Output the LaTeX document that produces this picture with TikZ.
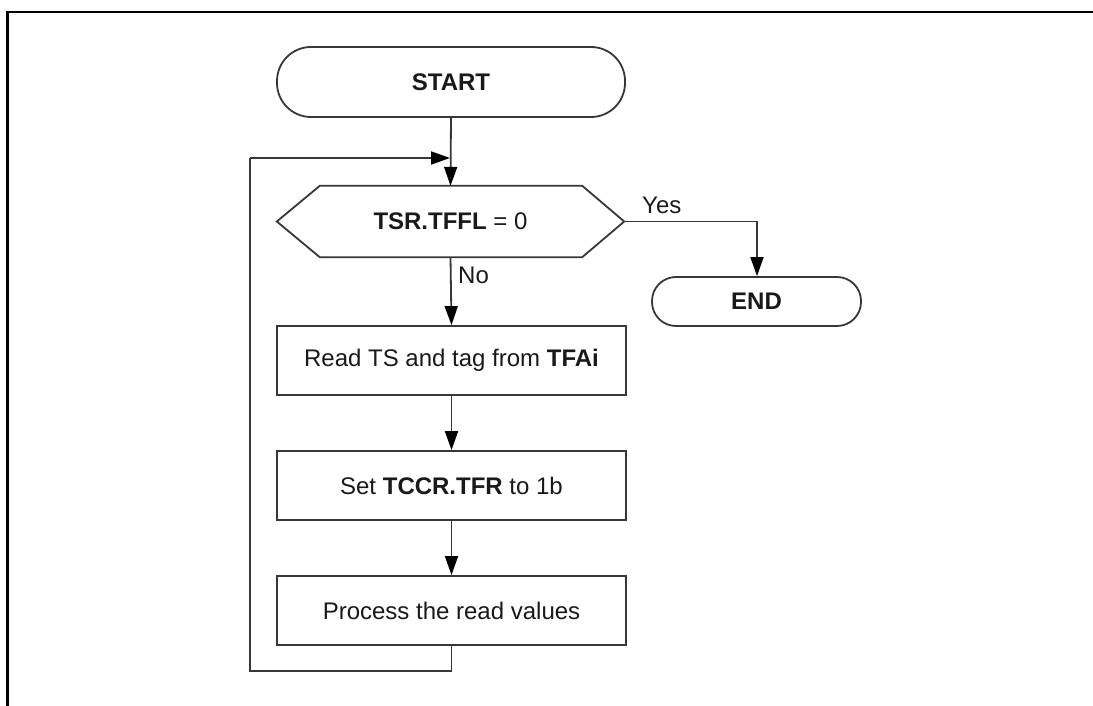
\documentclass[tikz,border=0pt]{standalone}
\usepackage{fontspec}
\setmainfont{Liberation Sans}
\usetikzlibrary{arrows.meta}
\definecolor{ln}{RGB}{55,55,55}
\definecolor{tx}{RGB}{25,25,25}
\tikzset{
  base/.style={draw=ln, line width=1.8pt, text=tx, inner sep=0pt, font=\fontsize{24}{28}\selectfont},
  term/.style={base, minimum height=70pt, rounded corners=34pt},
  procbox/.style={base, minimum width=349pt, minimum height=69pt},
  conn/.style={draw=ln, line width=1.8pt, -{Triangle[length=19pt,width=13pt,black]}},
  plain/.style={draw=ln, line width=1.8pt},
  lbl/.style={text=tx, inner sep=0pt, font=\fontsize{24}{28}\selectfont},
}
\begin{document}
\begin{tikzpicture}[x=1pt,y=-1pt]
\useasboundingbox (0,0) rectangle (1093,706);
% frame
\draw[black, line width=2.5pt] (7.5,706) -- (7.5,12) -- (1093,12);
% nodes
\node[term, minimum width=348pt] (start) at (451,82) {\textbf{START}};
\node[inner sep=0pt, minimum width=347pt, minimum height=71pt, lbl] (dec) at (450.5,221.5) {\textbf{TSR.TFFL} = 0};
\draw[plain, line join=miter] (dec.west) -- ([xshift=43pt]dec.north west) -- ([xshift=-42pt]dec.north east) -- (dec.east) -- ([xshift=-42pt]dec.south east) -- ([xshift=43pt]dec.south west) -- cycle;
\node[term, minimum width=209pt, minimum height=49pt, rounded corners=24pt] (end) at (756.5,301.5) {\textbf{END}};
\node[procbox] (r1) at (451.5,360.5) {Read TS and tag from \textbf{TFAi}};
\node[procbox] (r2) at (451.5,485.5) {Set \textbf{TCCR.TFR} to 1b};
\node[procbox] (r3) at (451.5,610.5) {Process the read values};
% connectors
\draw[conn] (start.south) -- (dec.north);
\coordinate (yc) at (757,221.5);
\draw[conn] (dec.east) -- (yc) -- (end.north -| yc);
\node[lbl, anchor=base west] (yes) at (642,213) {Yes};
\draw[conn] (dec.south) -- (r1.north);
\node[lbl, anchor=base west] (no) at (458,283) {No};
\draw[conn] (r1.south) -- (r2.north);
\draw[conn] (r2.south) -- (r3.north);
\coordinate (lb) at (250,671);
\coordinate (lt) at (250,158);
\coordinate (lj) at (450,158);
\draw[plain] (r3.south) -- (r3.south |- lb) -- (lb) -- (lt);
\draw[conn] (lt) -- (lj);
\end{tikzpicture}
\end{document}
